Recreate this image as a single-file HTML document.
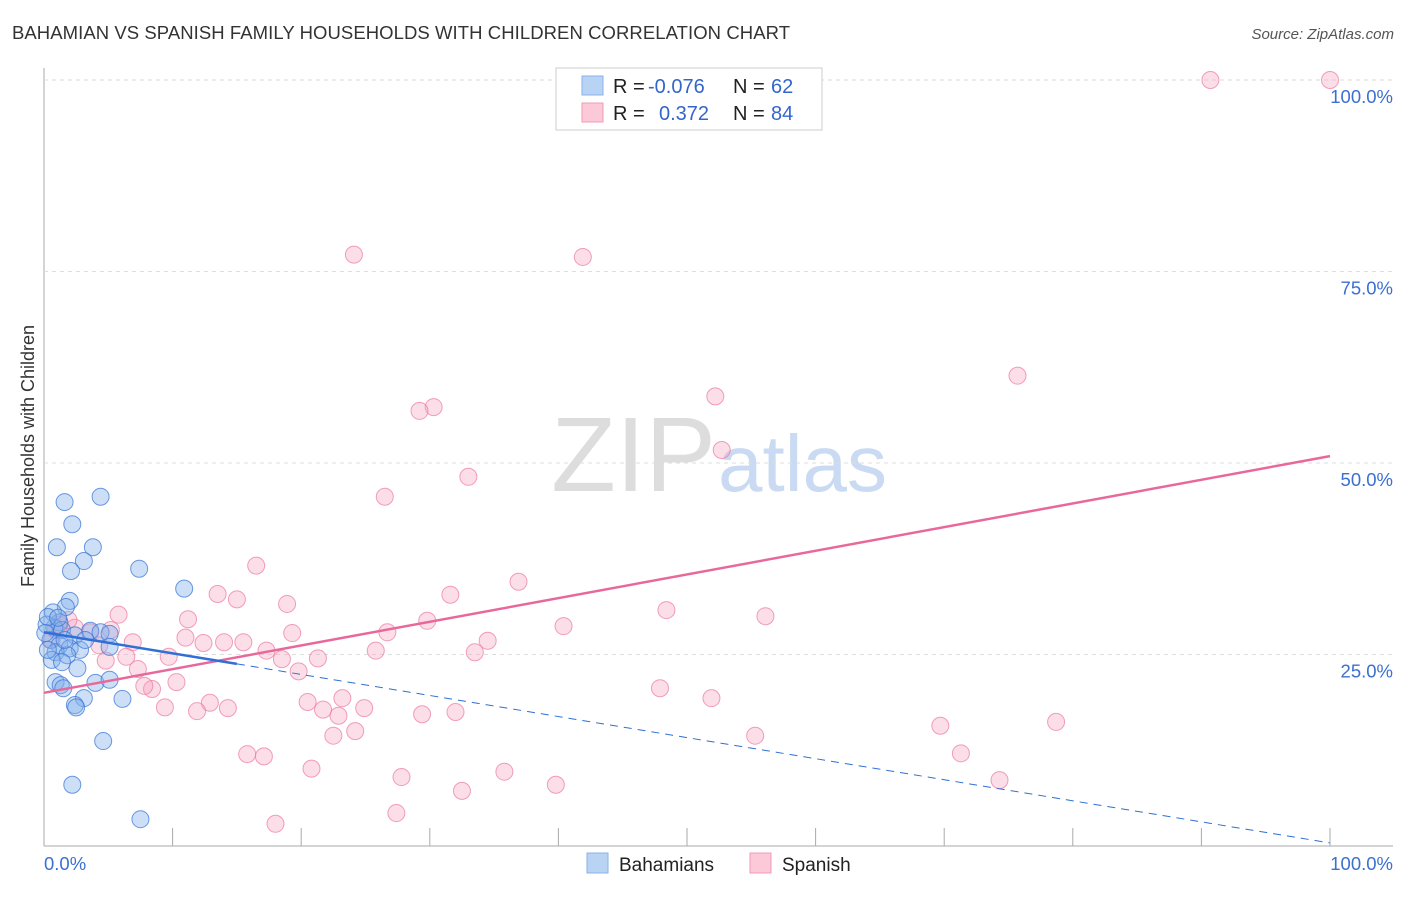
<!DOCTYPE html>
<html><head><meta charset="utf-8"><style>
body{margin:0;background:#fff;font-family:"Liberation Sans",sans-serif}
svg text{font-family:"Liberation Sans",sans-serif}
</style></head><body>
<svg id="chart" width="1406" height="892">
<text x="12" y="39" font-size="18.5" fill="#333" textLength="778">BAHAMIAN VS SPANISH FAMILY HOUSEHOLDS WITH CHILDREN CORRELATION CHART</text>
<text x="1394" y="39" font-size="15" fill="#555" font-style="italic" text-anchor="end">Source: ZipAtlas.com</text>
<text x="716" y="491" font-size="106" fill="#ddd" text-anchor="end" font-family="Liberation Serif">ZIP</text>
<text x="718" y="491" font-size="80" fill="#c9daf2">atlas</text>
<text transform="translate(34,456) rotate(-90)" font-size="18" fill="#333" text-anchor="middle">Family Households with Children</text>
<g id="grid"></g><g id="pts"></g><g id="lines"></g>
<g>
<rect x="556" y="68" width="266" height="62" fill="#fff" stroke="#ccc"/>
<rect x="582" y="76" width="21" height="19" fill="#b9d3f5" stroke="#8ab2ea"/>
<rect x="582" y="103" width="21" height="19" fill="#fbc9d8" stroke="#f09ab5"/>
<text x="613" y="93" font-size="20" fill="#222">R = <tspan x="648" fill="#3366cc">-0.076</tspan><tspan x="733">N = </tspan><tspan x="771" fill="#3366cc">62</tspan></text>
<text x="613" y="120" font-size="20" fill="#222">R = <tspan x="659" fill="#3366cc">0.372</tspan><tspan x="733">N = </tspan><tspan x="771" fill="#3366cc">84</tspan></text>
</g>
<g>
<rect x="587" y="853" width="21" height="20" fill="#b9d3f5" stroke="#8ab2ea"/>
<text x="619" y="871" font-size="19" fill="#222">Bahamians</text>
<rect x="750" y="853" width="21" height="20" fill="#fbc9d8" stroke="#f09ab5"/>
<text x="782" y="871" font-size="19" fill="#222">Spanish</text>
</g>
</svg>
<script>
const yTicks=[25,50,75,100];
const yTickLabels=["25.0%","50.0%","75.0%","100.0%"];
const xTickLabels=["0.0%","100.0%"];
const blueX=[1.6,4.4,2.2,1.0,3.8,3.1,2.1,7.4,10.9,2.0,1.7,0.7,1.2,0.8,0.2,1.4,2.4,3.6,4.4,5.1,0.5,1.2,2.0,2.8,0.9,1.8,0.6,2.6,4.0,5.1,0.9,1.3,1.5,3.1,6.1,2.4,2.5,4.6,2.2,7.5,0.3,1.1,5.1,1.6,0.3,1.4,3.2,0.1];
const blueY=[44.9,45.6,42.0,39.0,39.0,37.2,35.9,36.2,33.6,32.0,31.2,30.5,29.2,28.5,28.9,28.2,27.5,28.1,27.9,27.7,26.9,26.2,25.8,25.6,25.3,24.9,24.3,23.2,21.3,21.7,21.4,21.0,20.6,19.3,19.2,18.4,18.1,13.7,8.0,3.5,29.9,29.8,26.0,26.9,25.6,24.0,26.9,27.8];
const pinkX=[90.7,100,24.1,41.9,75.7,52.2,30.3,29.2,52.7,33.0,26.5,16.5,36.9,13.5,31.6,15.0,18.9,5.8,48.4,56.1,11.2,29.8,40.4,19.3,26.7,5.2,11.0,12.4,14.0,15.5,34.5,6.9,4.3,17.3,25.8,21.3,33.5,9.7,18.5,4.8,19.8,7.3,6.4,10.3,8.4,7.8,47.9,51.9,20.5,23.2,12.9,9.4,11.9,14.3,21.7,24.9,22.9,29.4,32.0,69.7,78.7,55.3,22.5,24.2,15.8,17.1,71.3,20.8,27.8,35.8,39.8,74.3,32.5,27.4,18.0,1.2,0.9,2.4,3.6,1.9,0.6];
const pinkY=[100,100,77.2,76.9,61.4,58.7,57.3,56.8,51.7,48.2,45.6,36.6,34.5,32.9,32.8,32.2,31.6,30.2,30.8,30.0,29.6,29.4,28.7,27.8,27.9,28.2,27.2,26.5,26.6,26.6,26.8,26.6,26.2,25.5,25.5,24.5,25.3,24.7,24.4,24.2,22.8,23.1,24.7,21.4,20.5,20.9,20.6,19.3,18.8,19.3,18.7,18.1,17.6,18.0,17.8,18.0,17.0,17.2,17.5,15.7,16.2,14.4,14.4,15.0,12.0,11.7,12.1,10.1,9.0,9.7,8.0,8.6,7.2,4.3,2.9,28.9,28.2,28.5,27.9,29.5,26.9];
const blueFit=[27.9,0.4];
const pinkFit=[20.0,50.9];
const X=v=>44+v*12.86, Y=v=>846-v*7.66;
const NS="http://www.w3.org/2000/svg";
function mk(t,a,p){const e=document.createElementNS(NS,t);for(const k in a)e.setAttribute(k,a[k]);p.appendChild(e);return e;}
const grid=document.getElementById('grid');
mk('line',{x1:44,y1:68,x2:44,y2:846,stroke:'#aaa'},grid);
mk('line',{x1:44,y1:846,x2:1393,y2:846,stroke:'#aaa'},grid);
for(let i=0;i<=10;i++){const t=mk('line',{x1:X(i*10),y1:828,x2:X(i*10),y2:846,stroke:'#aaa'},grid);

}
yTicks.forEach((v,i)=>{const l=mk('line',{x1:44,y1:Y(v),x2:1393,y2:Y(v),stroke:'#ddd','stroke-dasharray':'4,4'},grid);


const t=mk('text',{x:1393,y:Y(v)+23,'font-size':18.5,fill:'#3b6fd0','text-anchor':'end'},grid);t.textContent=yTickLabels[i];

});
const xl0=mk('text',{x:44,y:870,'font-size':18.5,fill:'#3b6fd0'},grid);xl0.textContent=xTickLabels[0];


const xl1=mk('text',{x:1393,y:870,'font-size':18.5,fill:'#3b6fd0','text-anchor':'end'},grid);xl1.textContent=xTickLabels[1];


const pts=document.getElementById('pts');
pinkX.forEach((x,i)=>{const c=mk('circle',{cx:X(x),cy:Y(pinkY[i]),r:8.5,fill:'rgba(246,160,188,0.35)',stroke:'rgba(236,120,160,0.7)','stroke-width':1},pts);

});
blueX.forEach((x,i)=>{const c=mk('circle',{cx:X(x),cy:Y(blueY[i]),r:8.5,fill:'rgba(130,175,235,0.4)',stroke:'rgba(60,120,215,0.75)','stroke-width':1},pts);

});
const lines=document.getElementById('lines');
const bf=v=>blueFit[0]+(blueFit[1]-blueFit[0])*v/100;
const pl=mk('line',{x1:X(0),y1:Y(pinkFit[0]),x2:X(100),y2:Y(pinkFit[1]),stroke:'#e8689a','stroke-width':2.5},lines);


const bl=mk('line',{x1:X(0),y1:Y(bf(0)),x2:X(15),y2:Y(bf(15)),stroke:'#2f6fd6','stroke-width':2.5},lines);


const bd=mk('line',{x1:X(15),y1:Y(bf(15)),x2:X(100),y2:Y(bf(100)),stroke:'#2f6fd6','stroke-width':1,'stroke-dasharray':'8,6'},lines);


</script>
</body></html>
